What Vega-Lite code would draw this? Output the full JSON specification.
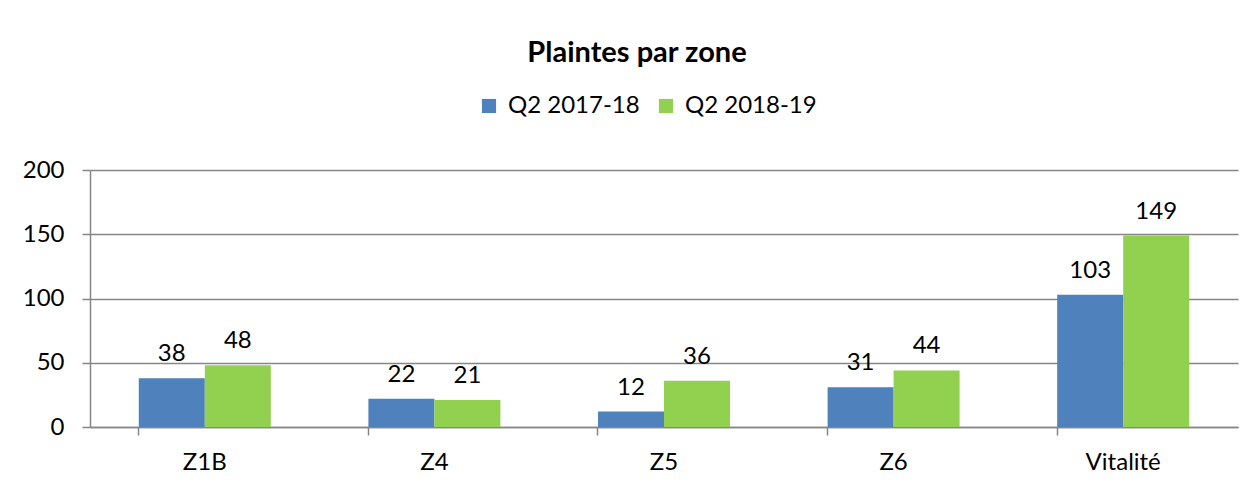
{
  "$schema": "https://vega.github.io/schema/vega-lite/v6.json",
  "autosize": {"type": "none"},
  "width": 1148,
  "height": 257,
  "padding": {"left": 90, "top": 170, "right": 16, "bottom": 58},
  "background": "white",
  "config": {
    "font": "Lato",
    "view": {"stroke": null},
    "axis": {"labelFont": "Lato", "labelFontSize": 24, "labelColor": "#000000", "domainColor": "#868686", "tickColor": "#868686", "gridColor": "#868686", "tickSize": 8, "domainWidth": 1.5, "tickWidth": 1.5, "gridWidth": 1.5, "titleFontSize": 0}
  },
  "title": {"text": "Plaintes par zone", "font": "Lato", "fontSize": 29, "fontWeight": "bold", "color": "#000000", "anchor": "middle", "frame": "group", "dx": -27, "offset": 84, "baseline": "middle", "dy": 72},
  "data": {"values": [
    {"zone": "Z1B", "periode": "Q2 2017-18", "plaintes": 38},
    {"zone": "Z1B", "periode": "Q2 2018-19", "plaintes": 48},
    {"zone": "Z4", "periode": "Q2 2017-18", "plaintes": 22},
    {"zone": "Z4", "periode": "Q2 2018-19", "plaintes": 21},
    {"zone": "Z5", "periode": "Q2 2017-18", "plaintes": 12},
    {"zone": "Z5", "periode": "Q2 2018-19", "plaintes": 36},
    {"zone": "Z6", "periode": "Q2 2017-18", "plaintes": 31},
    {"zone": "Z6", "periode": "Q2 2018-19", "plaintes": 44},
    {"zone": "Vitalité", "periode": "Q2 2017-18", "plaintes": 103},
    {"zone": "Vitalité", "periode": "Q2 2018-19", "plaintes": 149}
  ]},
  "encoding": {
    "x": {"field": "zone", "type": "nominal", "sort": ["Z1B", "Z4", "Z5", "Z6", "Vitalité"],
      "scale": {"paddingInner": 0.425, "paddingOuter": 0.2125},
      "axis": {"title": null, "labelAngle": 0, "bandPosition": 0, "labelPadding": 15, "grid": false}},
    "xOffset": {"field": "periode", "type": "nominal", "sort": ["Q2 2017-18", "Q2 2018-19"]},
    "y": {"field": "plaintes", "type": "quantitative", "scale": {"domain": [0, 200], "nice": false},
      "axis": {"title": null, "values": [0, 50, 100, 150, 200], "labelPadding": 18, "grid": true}}
  },
  "layer": [
    {"mark": {"type": "bar"},
     "encoding": {
       "color": {"field": "periode", "type": "nominal", "sort": ["Q2 2017-18", "Q2 2018-19"],
         "scale": {"range": ["#4F81BD", "#92D050"]},
         "legend": {"title": null, "orient": "none", "direction": "horizontal", "legendX": 387, "legendY": -76,
           "symbolType": "square", "symbolSize": 200, "symbolStrokeWidth": 0, "labelFont": "Lato", "labelFontSize": 24, "labelColor": "#000000", "labelOffset": 7, "columnPadding": 14}}
     }},
    {"mark": {"type": "text", "baseline": "bottom", "dy": -12, "font": "Lato", "fontSize": 24, "color": "#000000"},
     "encoding": {"text": {"field": "plaintes", "type": "quantitative"}}}
  ]
}
